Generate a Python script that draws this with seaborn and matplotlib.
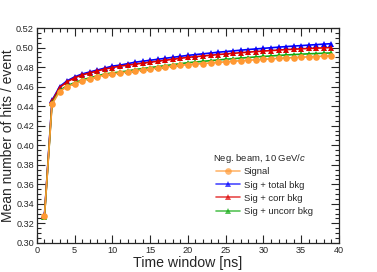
import numpy as np
import pandas as pd
import seaborn as sns
import matplotlib.pyplot as plt
from matplotlib.ticker import MultipleLocator

tempo = list(range(1, 40))

sinal = [0.328, 0.442, 0.455, 0.460, 0.463, 0.466, 0.468, 0.470, 0.472, 0.473,
         0.474, 0.475, 0.476, 0.477, 0.478, 0.479, 0.480, 0.481, 0.4818, 0.4825,
         0.483, 0.4836, 0.4842, 0.4848, 0.4854, 0.486, 0.4865, 0.487, 0.4875, 0.488,
         0.4885, 0.4889, 0.4893, 0.4897, 0.4901, 0.4905, 0.4908, 0.4912, 0.4915]
total = [0.329, 0.446, 0.460, 0.466, 0.470, 0.473, 0.475, 0.477, 0.479, 0.481,
         0.482, 0.4835, 0.485, 0.486, 0.487, 0.488, 0.489, 0.490, 0.491, 0.492,
         0.4928, 0.4936, 0.4944, 0.4952, 0.4959, 0.4966, 0.4973, 0.498, 0.4986, 0.4992,
         0.4998, 0.5004, 0.501, 0.5015, 0.502, 0.5025, 0.503, 0.5035, 0.504]
corr = [0.328, 0.445, 0.459, 0.465, 0.469, 0.472, 0.474, 0.476, 0.478, 0.4795,
        0.481, 0.482, 0.483, 0.484, 0.485, 0.486, 0.487, 0.488, 0.489, 0.490,
        0.4907, 0.4914, 0.4921, 0.4928, 0.4935, 0.4941, 0.4947, 0.4953, 0.4959, 0.4964,
        0.4969, 0.4974, 0.4979, 0.4983, 0.4987, 0.4991, 0.4994, 0.4997, 0.500]
uncorr = [0.327, 0.443, 0.456, 0.461, 0.464, 0.467, 0.469, 0.471, 0.473, 0.474,
          0.475, 0.476, 0.4775, 0.4785, 0.4795, 0.4805, 0.4815, 0.4825, 0.4835, 0.4845,
          0.4852, 0.4859, 0.4866, 0.4873, 0.488, 0.4886, 0.4892, 0.4898, 0.4904, 0.4909,
          0.4914, 0.4919, 0.4924, 0.4928, 0.4932, 0.4936, 0.4939, 0.4942, 0.4945]

series = [
    ("Signal", sinal, "#ff9933", "o"),
    ("Sig + total bkg", total, "#0000ff", "^"),
    ("Sig + corr bkg", corr, "#dd0000", "^"),
    ("Sig + uncorr bkg", uncorr, "#11aa11", "^"),
]

sns.set_style("ticks")
plt.rcParams["font.family"] = ["Liberation Sans", "DejaVu Sans"]
plt.rcParams["mathtext.fontset"] = "custom"
plt.rcParams["mathtext.it"] = "Liberation Sans:italic"
plt.rcParams["mathtext.rm"] = "Liberation Sans"

fig = plt.figure(figsize=(3.77, 2.72), dpi=100)
ax = fig.add_axes([0.098, 0.107, 0.801, 0.790])

ordem = [1, 2, 3, 0]
for i in ordem:
    nome, vals, cor, mk = series[i]
    df = pd.DataFrame({"t": tempo, "v": vals})
    sns.lineplot(data=df, x="t", y="v", ax=ax, color=cor, marker=mk,
                 markersize=4.8, markeredgewidth=0, linewidth=1.2, label=nome)

ax.set_xlim(0, 40)
ax.set_ylim(0.30, 0.52)
ax.xaxis.set_major_locator(MultipleLocator(5))
ax.xaxis.set_minor_locator(MultipleLocator(1))
ax.yaxis.set_major_locator(MultipleLocator(0.02))
ax.yaxis.set_minor_locator(MultipleLocator(0.005))
ax.yaxis.set_major_formatter(plt.FuncFormatter(lambda v, p: f"{v:.2f}"))
ax.tick_params(which="both", direction="in", top=True, right=True,
               labelsize=6.6, pad=2.2, width=0.8)
ax.tick_params(which="major", length=6)
ax.tick_params(which="minor", length=3)
for s in ax.spines.values():
    s.set_linewidth(0.9)

ax.set_xlabel("Time window [ns]", fontsize=10.2, labelpad=1)
ax.set_ylabel("Mean number of hits / event", fontsize=10)
ax.yaxis.set_label_coords(-0.074, 0.5)

ax.text(0.583, 0.395, "Neg. beam, 10 GeV/$c$", transform=ax.transAxes,
        fontsize=6.8, ha="left", va="center")

handles, labels = ax.get_legend_handles_labels()
mapa = dict(zip(labels, handles))
nomes = [s[0] for s in series]
leg = ax.legend([mapa[n] for n in nomes], nomes, loc="upper left",
                bbox_to_anchor=(0.593, 0.352), frameon=False, fontsize=6.8,
                handlelength=2.5, handletextpad=0.42, labelspacing=0.45,
                borderaxespad=0, borderpad=0)
for h in leg.legend_handles:
    h.set_alpha(0.7)

fig.savefig("out.png", dpi=100)
